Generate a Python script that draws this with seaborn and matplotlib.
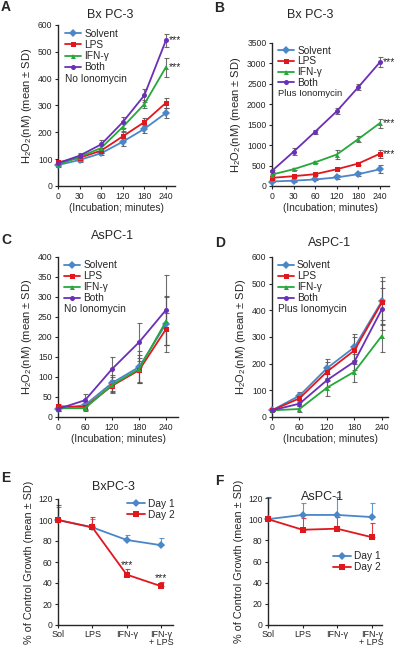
import numpy as np
import pandas as pd
import matplotlib
matplotlib.use("Agg")
import matplotlib.pyplot as plt
import seaborn as sns

# ---- data ----
groups = ["Solvent", "LPS", "IFN-γ", "Both"]
time_a = ["0", "30", "60", "120", "180", "240"]
time_c = ["0", "60", "120", "180", "240"]
treat = ["Sol", "LPS", "IFN-γ", "IFN-γ\n+ LPS"]
days = ["Day 1", "Day 2"]

# A: BxPC-3, no ionomycin
a_mean = {"Solvent": [78, 97, 122, 165, 213, 272],
          "LPS": [88, 105, 132, 185, 238, 310],
          "IFN-γ": [80, 108, 142, 220, 305, 443],
          "Both": [85, 113, 155, 238, 338, 543]}
a_sd = {"Solvent": [8, 8, 8, 15, 15, 20],
        "LPS": [5, 10, 10, 15, 15, 18],
        "IFN-γ": [5, 10, 10, 15, 15, 35],
        "Both": [5, 10, 15, 20, 25, 25]}
# B: BxPC-3, plus ionomycin
b_mean = {"Solvent": [110, 130, 160, 210, 290, 410],
          "LPS": [200, 240, 290, 410, 550, 790],
          "IFN-γ": [280, 410, 580, 770, 1150, 1540],
          "Both": [370, 840, 1330, 1830, 2420, 3030]}
b_sd = {"Solvent": [20, 20, 20, 50, 50, 100],
        "LPS": [20, 20, 20, 30, 30, 100],
        "IFN-γ": [20, 20, 20, 100, 80, 110],
        "Both": [20, 80, 50, 80, 80, 120]}
# C: AsPC-1, no ionomycin
c_mean = {"Solvent": [20, 30, 85, 125, 233],
          "LPS": [27, 25, 78, 117, 220],
          "IFN-γ": [22, 22, 80, 120, 240],
          "Both": [20, 42, 120, 187, 268]}
c_sd = {"Solvent": [5, 10, 20, 40, 70],
        "LPS": [5, 8, 15, 30, 40],
        "IFN-γ": [5, 8, 20, 35, 60],
        "Both": [5, 15, 30, 48, 88]}
# D: AsPC-1, plus ionomycin
d_mean = {"Solvent": [25, 80, 183, 262, 435],
          "LPS": [25, 70, 170, 250, 430],
          "IFN-γ": [25, 30, 110, 170, 305],
          "Both": [25, 50, 138, 208, 405]}
d_sd = {"Solvent": [3, 15, 35, 50, 90],
        "LPS": [3, 15, 35, 50, 80],
        "IFN-γ": [3, 10, 30, 40, 60],
        "Both": [3, 10, 25, 30, 80]}
# E / F: growth
e_mean = {"Day 1": [100, 93, 81, 76], "Day 2": [100, 93, 48, 37]}
e_sd = {"Day 1": [12, 8, 5, 7], "Day 2": [14, 10, 5, 4]}
f_mean = {"Day 1": [100, 104, 104, 102], "Day 2": [100, 90, 91, 83]}
f_sd = {"Day 1": [20, 11, 17, 13], "Day 2": [21, 11, 11, 13]}

colors = {"Solvent": "#4a86c8", "LPS": "#e0181e", "IFN-γ": "#26a83a", "Both": "#6a2fb8",
          "Day 1": "#4a86c8", "Day 2": "#e0181e"}
markers = {"Solvent": "D", "LPS": "s", "IFN-γ": "^", "Both": "o",
           "Day 1": "D", "Day 2": "s"}

sns.set_style("ticks")
plt.rcParams["font.family"] = ["Liberation Sans", "DejaVu Sans"]
plt.rcParams["mathtext.fontset"] = "custom"
plt.rcParams["mathtext.rm"] = "Liberation Sans"
plt.rcParams["mathtext.it"] = "Liberation Sans"

fig = plt.figure(figsize=(4, 6.48), dpi=100)
W, H = 400, 648


def add_ax(l, t, r, b):
    return fig.add_axes([l / W, 1 - b / H, (r - l) / W, (b - t) / H])


def ftext(x, y, s, **kw):
    fig.text(x / W, 1 - y / H, s, **kw)


def panel(ax, means, sds, names, xlabels, ylim, yticks, err_col="#555555", upper_only=False, ms=3.6):
    rows = []
    for g in names:
        for i, v in enumerate(means[g]):
            rows.append({"pos": i, "value": v, "group": g})
    df = pd.DataFrame(rows)
    for g in names:
        x = np.arange(len(means[g]))
        y = np.array(means[g])
        s = np.array(sds[g])
        yerr = [np.zeros_like(s), s] if upper_only else s
        ec = colors[g] if err_col is None else err_col
        ax.errorbar(x, y, yerr=yerr, fmt="none", ecolor=ec, elinewidth=0.8,
                    capsize=1.8, capthick=0.8, clip_on=False, zorder=2, alpha=0.85)
    sns.lineplot(data=df, x="pos", y="value", hue="group", style="group",
                 palette=colors, markers=markers, dashes=False, hue_order=names,
                 style_order=names, ax=ax, linewidth=1.3, markersize=ms,
                 markeredgewidth=0, clip_on=False, zorder=3)
    ax.set_xticks(range(len(xlabels)))
    ax.set_xticklabels(xlabels)
    ax.set_ylim(*ylim)
    ax.set_yticks(yticks)
    sns.despine(ax=ax)
    ax.tick_params(labelsize=6.2, length=2.5, width=0.8, pad=1.5)
    for sp in ["left", "bottom"]:
        ax.spines[sp].set_linewidth(1.0)
    ax.set_xlabel("")
    ax.set_ylabel("")


def leg(ax, x, y, spacing=0.1, hl=1.6):
    ax.legend(loc="upper left", bbox_to_anchor=(x, y), fontsize=7.3, frameon=False,
              handlelength=hl, labelspacing=spacing, borderaxespad=0, borderpad=0,
              handletextpad=0.3)


h2o2_label = "H$_2$O$_2$(nM) (mean ± SD)"

# A
axA = add_ax(58, 25, 175, 186)
panel(axA, a_mean, a_sd, groups, time_a, (0, 600), range(0, 601, 100))
axA.set_xlim(0, 5.42)
axA.set_ylabel(h2o2_label, fontsize=8, labelpad=3)
axA.set_xlabel("(Incubation; minutes)", fontsize=7.3, labelpad=2)
for y in [543, 443]:
    axA.text(5.12, y, "***", fontsize=7.5, va="center")
leg(axA, 0.06, 0.975)
axA.text(0.06, 0.665, "No Ionomycin", transform=axA.transAxes, fontsize=7.3, va="center")
ftext(110, 15, "Bx PC-3", fontsize=9, ha="center", va="center")

# B
axB = add_ax(272, 43, 389, 186)
panel(axB, b_mean, b_sd, groups, time_a, (0, 3500), range(0, 3501, 500))
axB.set_xlim(0, 5.42)
axB.set_ylabel(h2o2_label, fontsize=8, labelpad=3)
axB.set_xlabel("(Incubation; minutes)", fontsize=7.3, labelpad=2)
for y in [3030, 1540, 790]:
    axB.text(5.12, y, "***", fontsize=7.5, va="center")
leg(axB, 0.05, 0.98, spacing=0.06)
axB.text(0.05, 0.65, "Plus Ionomycin", transform=axB.transAxes, fontsize=6.8, va="center")
ftext(310, 15, "Bx PC-3", fontsize=9, ha="center", va="center")

# C
axC = add_ax(58, 257, 178, 417)
panel(axC, c_mean, c_sd, groups, time_c, (0, 400), range(0, 401, 50))
axC.set_xlim(0, 4.44)
axC.set_ylabel(h2o2_label, fontsize=8, labelpad=3)
axC.set_xlabel("(Incubation; minutes)", fontsize=7.3, labelpad=2)
leg(axC, 0.05, 0.98)
axC.text(0.05, 0.675, "No Ionomycin", transform=axC.transAxes, fontsize=7.3, va="center")
ftext(113, 236, "AsPC-1", fontsize=9, ha="center", va="center")

# D
axD = add_ax(272, 257, 388, 417)
panel(axD, d_mean, d_sd, groups, time_c, (0, 600), range(0, 601, 100))
axD.set_xlim(0, 4.22)
axD.set_ylabel(h2o2_label, fontsize=8, labelpad=3)
axD.set_xlabel("(Incubation; minutes)", fontsize=7.3, labelpad=2)
leg(axD, 0.05, 0.98)
axD.text(0.05, 0.675, "Plus Ionomycin", transform=axD.transAxes, fontsize=7.3, va="center")
ftext(330, 243, "AsPC-1", fontsize=9, ha="center", va="center")

# E
axE = add_ax(58, 499, 173, 625)
panel(axE, e_mean, e_sd, days, treat, (0, 120), range(0, 121, 20),
      err_col=None, upper_only=True, ms=3.8)
axE.set_xlim(0, 3.35)
axE.tick_params(axis="x", labelsize=6.5, pad=1)
for t in axE.get_xticklabels():
    t.set_linespacing(0.85)
axE.set_ylabel("% of Control Growth (mean ± SD)", fontsize=7.8, labelpad=3)
axE.text(2, 48 + 6, "***", fontsize=7.5, ha="center")
axE.text(3, 37 + 5, "***", fontsize=7.5, ha="center")
leg(axE, 0.6, 1.0, spacing=0.08, hl=1.8)
ftext(113, 487, "BxPC-3", fontsize=9, ha="center", va="center")

# F
axF = add_ax(268, 498, 382, 625)
panel(axF, f_mean, f_sd, days, treat, (0, 120), range(0, 121, 20),
      err_col=None, upper_only=True, ms=3.8)
axF.set_xlim(0, 3.3)
axF.tick_params(axis="x", labelsize=6.5, pad=1)
for t in axF.get_xticklabels():
    t.set_linespacing(0.85)
axF.set_ylabel("% of Control Growth (mean ± SD)", fontsize=7.8, labelpad=3)
leg(axF, 0.57, 0.58, spacing=0.08, hl=1.8)
ftext(323, 497, "AsPC-1", fontsize=9, ha="center", va="center")

# panel letters
for lab, x, y in [("A", 1, 7), ("B", 214, 8), ("C", 1, 240),
                  ("D", 215, 243), ("E", 1, 478), ("F", 215, 481)]:
    ftext(x, y, lab, fontsize=10, fontweight="bold", va="center")

fig.savefig("out.png", dpi=100)
